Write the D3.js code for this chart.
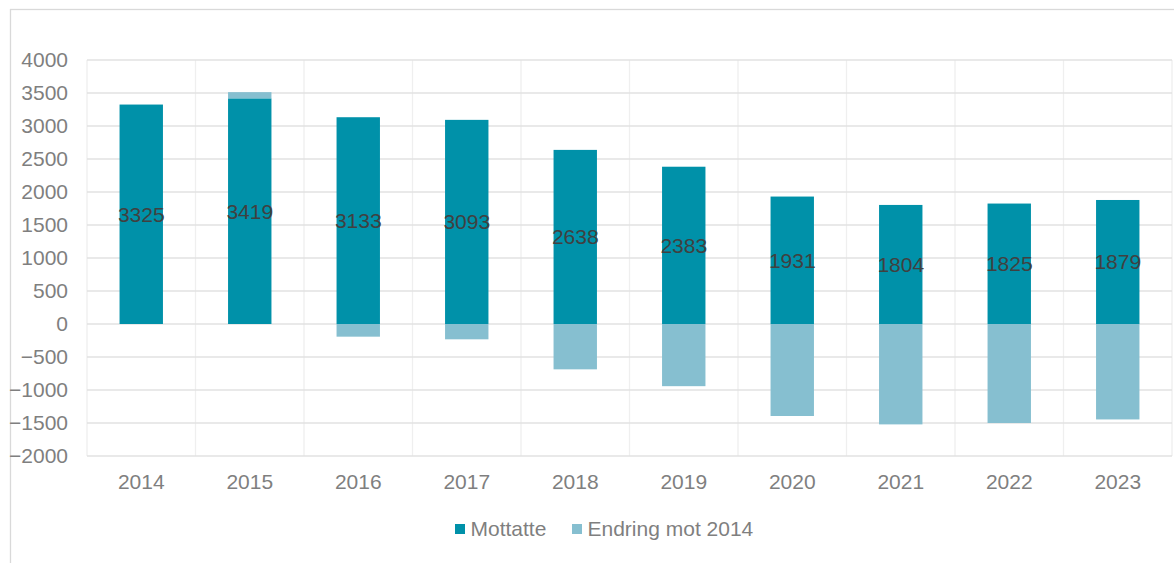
<!DOCTYPE html>
<html><head><meta charset="utf-8">
<script src="https://cdn.jsdelivr.net/npm/d3@7"></script>
<style>body{margin:0;background:#fff;}svg{display:block;font-family:"Liberation Sans",Arial,sans-serif;}</style>
</head><body><svg id="c" width="1174" height="563"></svg>
<script>
const years = ["2014","2015","2016","2017","2018","2019","2020","2021","2022","2023"];
const mottatte = [3325,3419,3133,3093,2638,2383,1931,1804,1825,1879];
const endring = [0,94,-192,-232,-687,-942,-1394,-1521,-1500,-1446];
const yTicks = [-2000,-1500,-1000,-500,0,500,1000,1500,2000,2500,3000,3500,4000];
const seriesNames = ["Mottatte","Endring mot 2014"];
const colors = ["#0091A9","#86BFD0"];

const svg = d3.select("#c");
const L = 87, R = 1172, T = 60, B = 456;
const x = d3.scaleBand().domain(years).range([L,R]).paddingInner(0.6).paddingOuter(0.3);
const xb = d3.scaleBand().domain(years).range([L,R]);
const y = d3.scaleLinear().domain([-2000,4000]).range([B,T]);

// outer border
svg.append("rect").attr("x",10.5).attr("y",9.5).attr("width",1200).attr("height",600)
  .attr("fill","none").attr("stroke","#d9d9d9").attr("stroke-width",1.3);

// vertical gridlines
const vx = years.map(d=>xb(d)).concat([R]);
svg.append("g").selectAll("line").data(vx).join("line")
  .attr("x1",d=>d).attr("x2",d=>d).attr("y1",T).attr("y2",B)
  .attr("stroke","#efefef").attr("stroke-width",1.3);

// horizontal gridlines
svg.append("g").selectAll("line").data(yTicks).join("line")
  .attr("x1",L).attr("x2",R).attr("y1",d=>y(d)).attr("y2",d=>y(d))
  .attr("stroke","#e2e2e2").attr("stroke-width",1.3);

// y axis labels
const ya = svg.append("g").attr("transform",`translate(${L},0)`)
  .call(d3.axisLeft(y).tickValues(yTicks).tickSize(0).tickPadding(19).tickFormat(d3.format("d")));
ya.select(".domain").remove();
ya.selectAll("text").attr("font-size",21).attr("fill","#7f7f7f").attr("font-family","Liberation Sans, Arial, sans-serif");

// x axis labels
const xa = svg.append("g").attr("transform",`translate(0,${B})`)
  .call(d3.axisBottom(xb).tickSize(0).tickPadding(18));
xa.select(".domain").remove();
xa.selectAll("text").attr("font-size",21).attr("fill","#7f7f7f").attr("font-family","Liberation Sans, Arial, sans-serif");

// bars
svg.append("g").selectAll("rect").data(years).join("rect")
  .attr("x",d=>x(d)).attr("width",x.bandwidth())
  .attr("y",(d,i)=>y(mottatte[i])).attr("height",(d,i)=>y(0)-y(mottatte[i]))
  .attr("fill",colors[0]);
svg.append("g").selectAll("rect").data(years).join("rect")
  .attr("x",d=>x(d)).attr("width",x.bandwidth())
  .attr("y",(d,i)=> endring[i]>=0 ? y(mottatte[i]+endring[i]) : y(0))
  .attr("height",(d,i)=> endring[i]>=0 ? y(mottatte[i])-y(mottatte[i]+endring[i]) : y(endring[i])-y(0))
  .attr("fill",colors[1]);

// data labels
svg.append("g").selectAll("text").data(years).join("text")
  .attr("x",d=>x(d)+x.bandwidth()/2).attr("y",(d,i)=>y(mottatte[i]/2))
  .attr("dy","0.35em").attr("text-anchor","middle")
  .attr("font-size",21).attr("fill","#404040").text((d,i)=>mottatte[i]);

// legend
const lg = svg.append("g");
const lx = [455, 572];
seriesNames.forEach((n,i)=>{
  lg.append("rect").attr("x",lx[i]).attr("y",524).attr("width",10).attr("height",10).attr("fill",colors[i]);
  lg.append("text").attr("x",lx[i]+15.5).attr("y",529).attr("dy","0.35em")
    .attr("font-size",21).attr("fill","#7f7f7f").text(n);
});
</script></body></html>
